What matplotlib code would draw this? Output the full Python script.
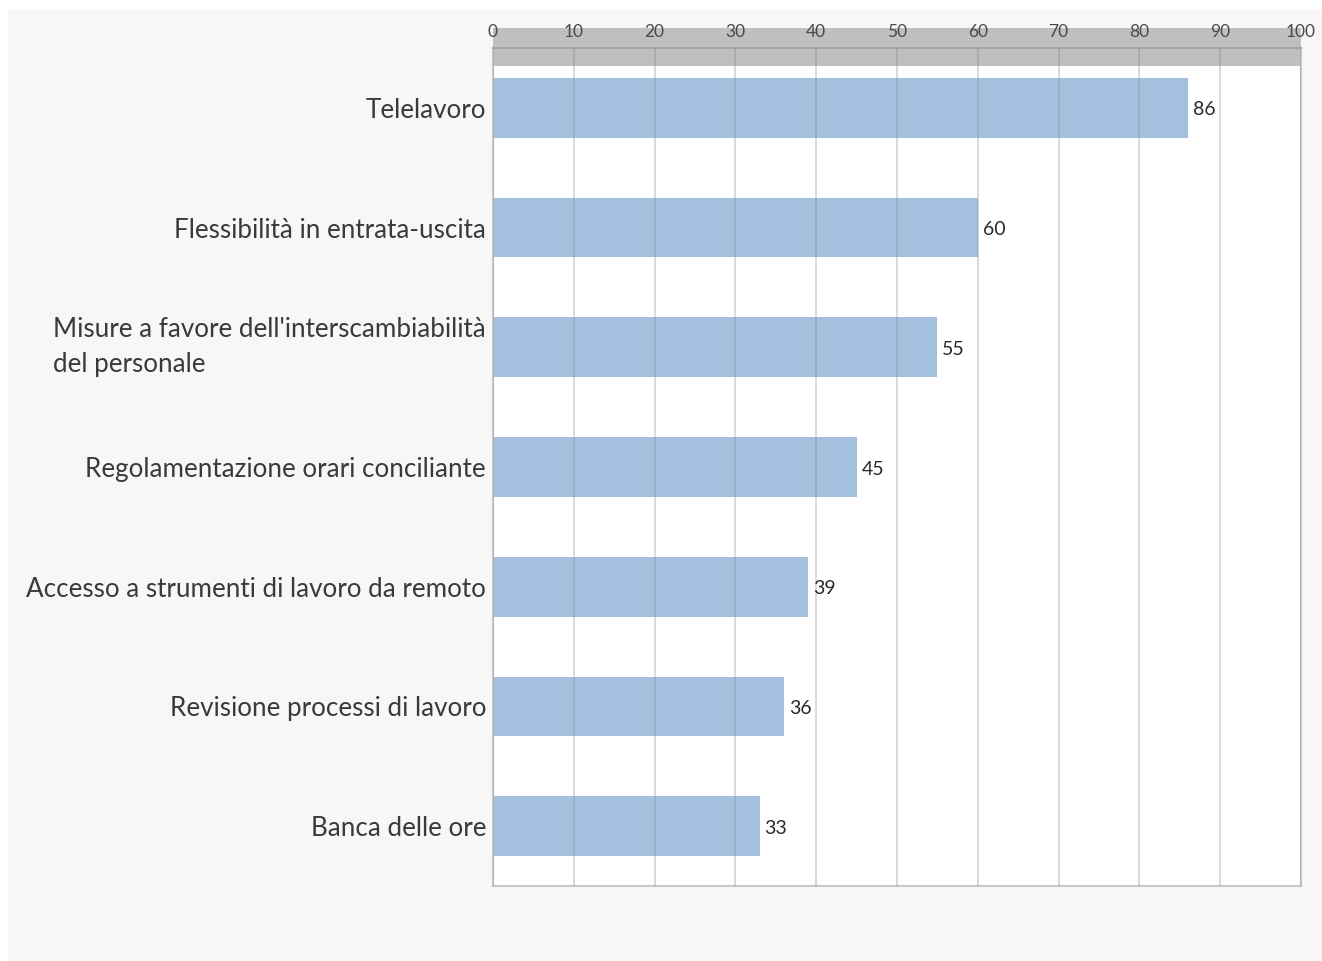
import matplotlib
matplotlib.use("Agg")
import matplotlib.pyplot as plt
from matplotlib.patches import Rectangle

categories = [
    "Telelavoro",
    "Flessibilità in entrata-uscita",
    "Misure a favore dell'interscambiabilità\ndel personale",
    "Regolamentazione orari conciliante",
    "Accesso a strumenti di lavoro da remoto",
    "Revisione processi di lavoro",
    "Banca delle ore",
]
values = [86, 60, 55, 45, 39, 36, 33]
xticks = list(range(0, 101, 10))

plt.rcParams['font.family'] = ['Lato', 'DejaVu Sans']

W, H = 1322, 961
fig = plt.figure(figsize=(W / 100, H / 100), dpi=100)
fig.patch.set_facecolor('white')
fig.patches.append(Rectangle((8 / W, 0), 1 - 8 / W, 1 - 10 / H, transform=fig.transFigure,
                             facecolor='#f8f7f5', edgecolor='none', zorder=-10))

L, R, T, B = 493, 1301, 48, 886
ax = fig.add_axes([L / W, 1 - B / H, (R - L) / W, (B - T) / H])
ax.set_facecolor('white')

ypos = list(range(len(categories)))
ax.barh(ypos, values, height=0.5, color='#a3c1df', zorder=1)
ax.set_xlim(0, 100)
ax.set_ylim(len(categories) - 0.5, -0.5)

# gray header band
axh = B - T
ax.add_patch(Rectangle((0, 1 - 18 / axh), 1, (18 + 20) / axh, transform=ax.transAxes,
                       facecolor='#bfbfbf', edgecolor='none', clip_on=False, zorder=0.5))

ax.set_axisbelow(False)
ax.xaxis.grid(True, color='#808080', alpha=0.32, linewidth=1.3)
ax.yaxis.grid(False)

ax.xaxis.tick_top()
ax.set_xticks(xticks)
ax.set_xticklabels([str(t) for t in xticks], fontsize=12.5, color='#4a4a4a')
ax.tick_params(axis='x', length=0, pad=6)

ax.set_yticks(ypos)
ax.set_yticklabels(categories, fontsize=18.7, color='#3a3a3a')
ax.tick_params(axis='y', length=0, pad=5)
for lbl in ax.get_yticklabels():
    lbl.set_multialignment('left')
    lbl.set_linespacing(1.5)
    if '\n' in lbl.get_text():
        lbl.set_va('center')

for s in ['left', 'right', 'bottom']:
    ax.spines[s].set_color('#c8c8c8')
    ax.spines[s].set_linewidth(1.5)
ax.spines['top'].set_color('#a6a6a6')
ax.spines['top'].set_linewidth(1.5)

for i, v in enumerate(values):
    ax.annotate(str(v), (v, i), xytext=(3.5, -1.5), textcoords='offset points',
                ha='left', va='center', fontsize=14, color='#2a2a2a')

fig.savefig('out.png', dpi=100, facecolor=fig.get_facecolor())
